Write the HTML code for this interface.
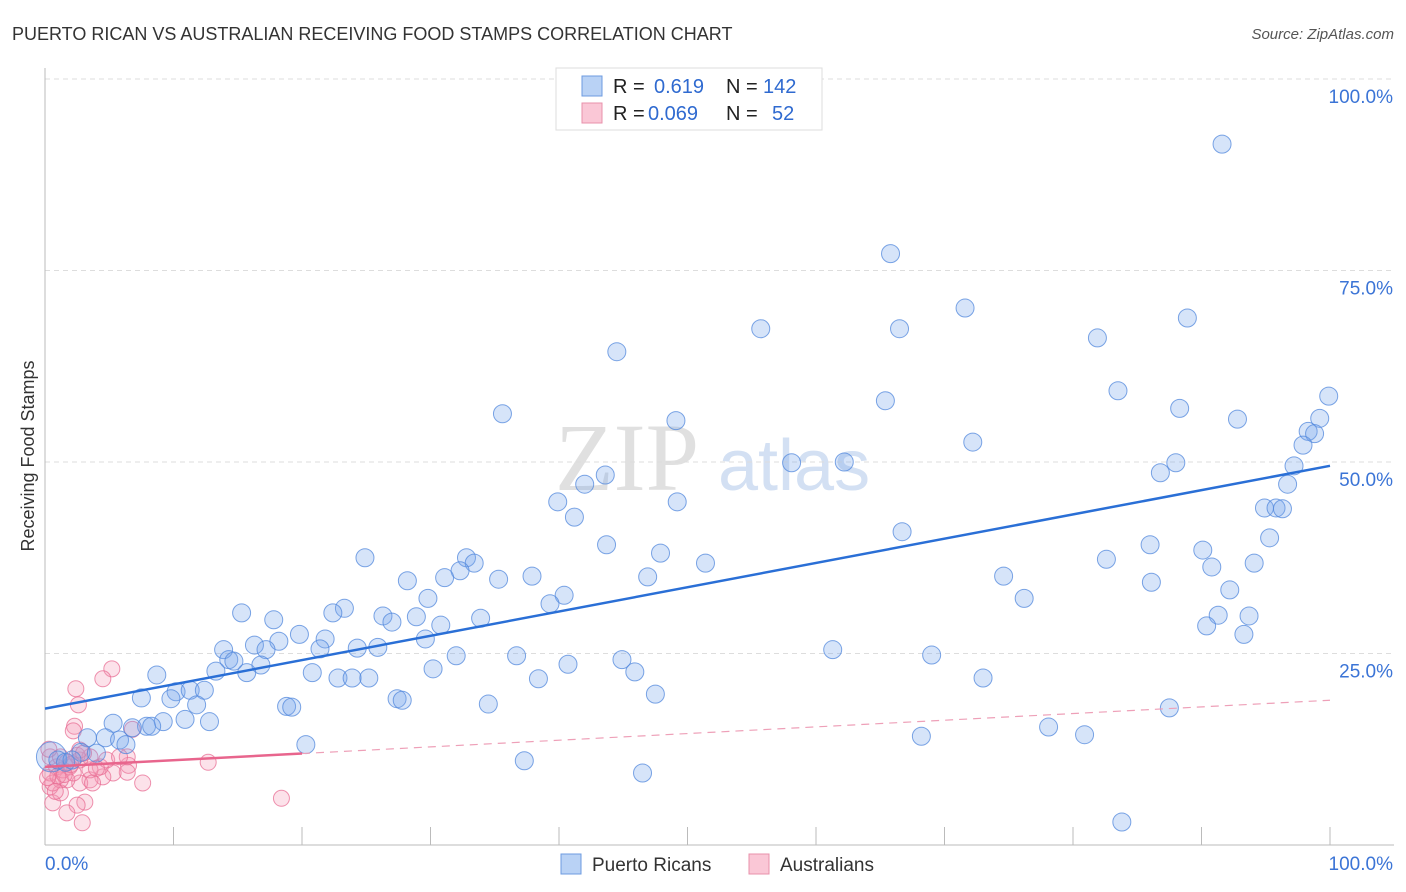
<!DOCTYPE html>
<html><head><meta charset="utf-8"><style>
body{margin:0;background:#fff;font-family:"Liberation Sans",sans-serif}
svg{display:block}
</style></head><body>
<svg id="c" width="1406" height="892" xmlns="http://www.w3.org/2000/svg">
<text x="12" y="40" font-size="18" fill="#333">PUERTO RICAN VS AUSTRALIAN RECEIVING FOOD STAMPS CORRELATION CHART</text>
<text x="1394" y="39" font-size="15" fill="#555" font-style="italic" text-anchor="end">Source: ZipAtlas.com</text>
<text x="34" y="456" font-size="18" fill="#333" text-anchor="middle" transform="rotate(-90 34 456)">Receiving Food Stamps</text>
<g>
<text x="555" y="490" font-size="96" fill="#e0e0e0" font-family="Liberation Serif,serif">ZIP</text>
<text x="718" y="490" font-size="72" fill="#d3e0f3">atlas</text>
</g>
<g id="grid"></g><g id="axes"></g><g id="pts"></g><g id="trend"></g>
<g>
<rect x="556" y="68" width="266" height="62" fill="#fff" stroke="#ddd"/>
<rect x="582" y="76" width="20" height="20" fill="#b9d2f5" stroke="#6d9be0"/>
<rect x="582" y="103" width="20" height="20" fill="#fac7d6" stroke="#e890ab"/>
<text x="613" y="93" font-size="20" fill="#222">R = </text><text x="654" y="93" font-size="20" fill="#2f6ad0">0.619</text>
<text x="726" y="93" font-size="20" fill="#222">N = </text><text x="763" y="93" font-size="20" fill="#2f6ad0">142</text>
<text x="613" y="120" font-size="20" fill="#222">R = </text><text x="648" y="120" font-size="20" fill="#2f6ad0">0.069</text>
<text x="726" y="120" font-size="20" fill="#222">N = </text><text x="772" y="120" font-size="20" fill="#2f6ad0">52</text>
</g>
<g>
<rect x="561" y="854" width="20" height="20" fill="#b9d2f5" stroke="#6d9be0"/>
<text x="592" y="871" font-size="19" fill="#333">Puerto Ricans</text>
<rect x="749" y="854" width="20" height="20" fill="#fac7d6" stroke="#e890ab"/>
<text x="780" y="871" font-size="19" fill="#333">Australians</text>
</g>
</svg>
<script>
const blueX=[91.6,65.8,71.6,55.7,66.5,88.9,81.9,44.5,83.5,99.9,65.4,88.3,35.6,92.8,99.2,49.1,98.3,98.8,72.2,97.9,58.1,62.2,97.2,88.0,86.8,43.6,42.0,96.7,39.9,49.2,94.9,95.8,96.3,41.2,66.7,95.3,43.7,86.0,90.1,47.9,24.9,32.8,82.6,33.4,51.4,94.1,32.3,90.8,74.6,37.9,46.9,31.1,35.3,28.2,86.1,92.2,40.4,29.8,76.2,39.3,23.3,15.3,22.4,26.3,91.3,93.7,28.9,33.9,17.8,27.0,30.8,90.4,19.8,93.3,29.6,21.8,18.2,16.3,21.4,24.3,25.9,13.9,17.2,61.3,32.0,36.7,69.0,44.9,14.3,14.7,40.7,16.8,30.2,45.9,13.3,15.7,8.7,20.8,22.8,23.9,25.2,73.0,38.4,10.2,11.3,12.4,47.5,7.5,9.8,11.8,27.4,27.8,18.8,19.2,34.5,87.5,5.3,12.8,10.9,9.2,7.9,8.3,6.8,78.1,3.3,4.7,5.8,80.9,68.2,20.3,6.3,2.8,4.0,0.5,1.0,1.6,2.1,37.3,46.5,83.8];
const blueY=[91.5,77.2,70.1,67.4,67.4,68.8,66.2,64.4,59.3,58.6,58.0,57.0,56.3,55.6,55.7,55.4,54.0,53.7,52.6,52.2,49.9,50.0,49.5,49.9,48.6,48.3,47.1,47.1,44.8,44.8,44.0,44.0,43.9,42.8,40.9,40.1,39.2,39.2,38.5,38.1,37.5,37.5,37.3,36.8,36.8,36.8,35.8,36.3,35.1,35.1,35.0,34.9,34.7,34.5,34.3,33.3,32.6,32.2,32.2,31.5,30.9,30.3,30.3,29.9,30.0,29.9,29.8,29.6,29.4,29.1,28.7,28.6,27.5,27.5,26.9,26.9,26.6,26.1,25.6,25.7,25.8,25.5,25.5,25.5,24.7,24.7,24.8,24.2,24.2,24.0,23.6,23.5,23.0,22.6,22.7,22.5,22.2,22.5,21.8,21.8,21.8,21.8,21.7,20.0,20.2,20.2,19.7,19.2,19.1,18.3,19.1,18.9,18.1,18.0,18.4,17.9,15.9,16.1,16.4,16.1,15.5,15.5,15.3,15.4,14.0,14.0,13.7,14.4,14.2,13.1,13.1,12.1,12.0,11.5,11.1,10.8,11.1,11.0,9.4,3.0];
const pinkX=[5.2,4.5,2.4,2.6,2.3,2.2,6.8,12.7,18.4,7.6,6.5,6.4,5.3,4.5,3.5,2.7,1.7,3.1,2.5,1.7,2.9,0.6,1.2,0.4,0.4,0.9,1.4,1.9,0.4,6.4,4.3,3.5,2.7,3.5,2.2,3.7,1.2,0.6,1.2,2.5,1.7,4.8,2.7,5.8,0.3,1.0,2.0,3.0,0.8,1.5,4.0,0.2];
const pinkY=[23.0,21.7,20.4,18.3,15.5,14.9,15.1,10.8,6.1,8.1,10.4,9.5,9.4,8.9,8.5,8.1,8.5,5.6,5.2,4.2,2.9,5.5,6.8,7.6,9.4,10.2,9.8,10.2,11.5,11.5,10.2,9.8,11.1,11.5,9.4,8.1,8.5,8.1,11.5,11.7,10.8,11.1,12.4,11.5,12.5,9.0,10.5,12.0,7.0,9.2,10.0,8.8];
const yTicks=[25,50,75,100];
const yTickLabels=["25.0%","50.0%","75.0%","100.0%"];
const xTicks=[0,10,20,30,40,50,60,70,80,90,100];
const blueTrend=[17.8,49.5];
const pinkTrend=[10.2,18.9];
const sx=v=>45+v*12.85, sy=v=>845-v*7.66;
const NS="http://www.w3.org/2000/svg";
function mk(p,t,a){const e=document.createElementNS(NS,t);for(const k in a)e.setAttribute(k,a[k]);p.appendChild(e);return e;}
const grid=document.getElementById('grid'),axes=document.getElementById('axes'),pts=document.getElementById('pts'),tr=document.getElementById('trend');
yTicks.forEach((t,i)=>{const l=mk(grid,'line',{x1:45,x2:1394,y1:sy(t),y2:sy(t),stroke:'#ddd','stroke-dasharray':'5,4'});


const tx=mk(grid,'text',{x:1393,y:sy(t)+24,'font-size':19,fill:'#3b74d6','text-anchor':'end'});tx.textContent=yTickLabels[i];

});
mk(axes,'line',{x1:45,x2:45,y1:68,y2:845,stroke:'#bbb'});
mk(axes,'line',{x1:45,x2:1394,y1:845,y2:845,stroke:'#bbb'});
xTicks.forEach(t=>{if(t>0){const l=mk(axes,'line',{x1:sx(t),x2:sx(t),y1:827,y2:845,stroke:'#bbb'});

}});
const xl0=mk(axes,'text',{x:45,y:870,'font-size':19,fill:'#3b74d6'});xl0.textContent='0.0%';


const xl1=mk(axes,'text',{x:1393,y:870,'font-size':19,fill:'#3b74d6','text-anchor':'end'});xl1.textContent='100.0%';


pinkX.forEach((x,i)=>{const c=mk(pts,'circle',{cx:sx(x),cy:sy(pinkY[i]),r:8,fill:'rgba(245,150,178,0.28)',stroke:'rgba(232,110,148,0.75)','stroke-width':1});

});
blueX.forEach((x,i)=>{const c=mk(pts,'circle',{cx:sx(x),cy:sy(blueY[i]),r:(i==133?15:9),fill:'rgba(120,165,235,0.3)',stroke:'rgba(80,135,220,0.75)','stroke-width':1});

});
const b=mk(tr,'line',{x1:sx(0),y1:sy(blueTrend[0]),x2:sx(100),y2:sy(blueTrend[1]),stroke:'#2a6fd6','stroke-width':2.5});


const pm=pinkTrend[0]+(pinkTrend[1]-pinkTrend[0])*0.2;
const p1=mk(tr,'line',{x1:sx(0),y1:sy(pinkTrend[0]),x2:sx(20),y2:sy(pm),stroke:'#e8658d','stroke-width':2.5});


const p2=mk(tr,'line',{x1:sx(20),y1:sy(pm),x2:sx(100),y2:sy(pinkTrend[1]),stroke:'#eea0b8','stroke-width':1.2,'stroke-dasharray':'8,6'});


</script>
</body></html>
